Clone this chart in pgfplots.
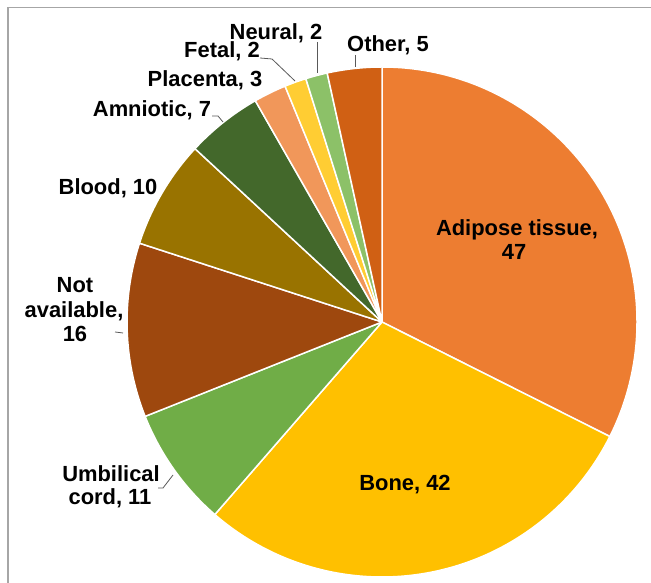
\documentclass[border=0pt]{standalone}
\usepackage{fontspec}
\setmainfont{Liberation Sans}
\usepackage{pgfplots}
\pgfplotsset{compat=1.18}
\definecolor{cAdi}{HTML}{ED7D31}
\definecolor{cBone}{HTML}{FFC000}
\definecolor{cUmb}{HTML}{70AD47}
\definecolor{cNA}{HTML}{9E480E}
\definecolor{cBlood}{HTML}{997300}
\definecolor{cAmn}{HTML}{43682B}
\definecolor{cPla}{HTML}{F1975A}
\definecolor{cFet}{HTML}{FFCD33}
\definecolor{cNeu}{HTML}{8CC168}
\definecolor{cOth}{HTML}{D06014}
\definecolor{frame}{HTML}{A6A6A6}
\definecolor{lead}{HTML}{595959}
\begin{document}
\begin{tikzpicture}
\useasboundingbox (0,0) rectangle (651bp,583bp);
\begin{axis}[width=651bp,height=583bp,scale only axis,hide axis,
  xmin=0,xmax=651,ymin=-583,ymax=0,clip=false,
  nodes={font=\fontsize{22}{26}\selectfont\bfseries, text=black, inner sep=0pt}]
% frame
\draw[frame,line width=1.6bp] (axis cs:651,-7.5) -- (axis cs:8,-7.5) -- (axis cs:8,-583);
% pie slices: value / colour, clockwise from 12 o'clock
\def\total{145}
\def\cum{0}
\pgfplotsforeachungrouped \v/\c in {47/cAdi,42/cBone,11/cUmb,16/cNA,10/cBlood,7/cAmn,3/cPla,2/cFet,2/cNeu,5/cOth}{%
  \pgfmathsetmacro\sa{90-\cum/\total*360}%
  \pgfmathsetmacro\newcum{\cum+\v}%
  \global\let\cum\newcum
  \pgfmathsetmacro\ea{90-\cum/\total*360}%
  \edef\temp{\noexpand\filldraw[fill=\c,draw=white,line width=1.5bp,line join=round] (axis cs:382,-322) -- ++(\sa:255bp) arc[start angle=\sa,end angle=\ea,radius=255bp] -- cycle;}%
  \temp
}
% leader lines
\draw[lead,line width=0.8bp] (axis cs:317,-42) -- (axis cs:317,-73);
\draw[lead,line width=0.8bp] (axis cs:260,-58) -- (axis cs:272,-59) -- (axis cs:295,-81);
\draw[lead,line width=0.8bp] (axis cs:355,-55) -- (axis cs:355,-67);
\draw[lead,line width=0.8bp] (axis cs:212,-116) -- (axis cs:218,-116) -- (axis cs:223,-122);
\draw[lead,line width=0.8bp] (axis cs:115,-332) -- (axis cs:123,-333);
\draw[lead,line width=0.8bp] (axis cs:158,-488) -- (axis cs:163,-488) -- (axis cs:173,-475);
% labels
\node[anchor=base] at (axis cs:517,-236) {Adipose tissue,};
\node[anchor=base] at (axis cs:514,-260) {47};
\node[anchor=base] at (axis cs:405,-491) {Bone, 42};
\node[anchor=base] at (axis cs:111,-482) {Umbilical};
\node[anchor=base] at (axis cs:110,-505) {cord, 11};
\node[anchor=base] at (axis cs:75,-293) {Not};
\node[anchor=base] at (axis cs:74,-318) {available,};
\node[anchor=base] at (axis cs:75,-342) {16};
\node[anchor=base] at (axis cs:108,-195) {Blood, 10};
\node[anchor=base] at (axis cs:152,-117) {Amniotic, 7};
\node[anchor=base] at (axis cs:205,-87) {Placenta, 3};
\node[anchor=base] at (axis cs:222,-58) {Fetal, 2};
\node[anchor=base] at (axis cs:276,-40) {Neural, 2};
\node[anchor=base] at (axis cs:388,-52) {Other, 5};
\end{axis}
\end{tikzpicture}
\end{document}
